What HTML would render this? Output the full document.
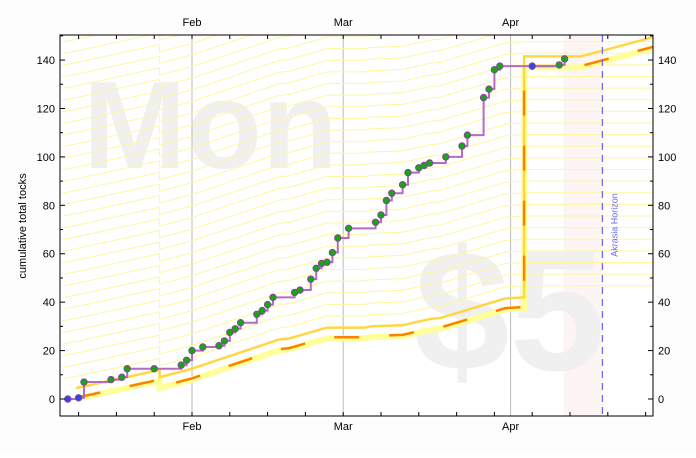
<!DOCTYPE html>
<html><head><meta charset="utf-8"><style>
body{margin:0;background:#fff;font-family:"Liberation Sans",sans-serif}
svg text{font-family:"Liberation Sans",sans-serif}
</style></head><body>
<svg id="c" width="696" height="453" viewBox="0 0 696 453" xmlns="http://www.w3.org/2000/svg">
<rect width="696" height="453" fill="#fdfdfd"/>
<rect x="60" y="35" width="593" height="381" fill="#fff"/>
<g id="plot"></g>
<rect x="60" y="35" width="593" height="381" fill="none" stroke="#000" stroke-width="1"/>
<text transform="translate(26,226) rotate(-90)" text-anchor="middle" font-size="11">cumulative total tocks</text>
</svg>
<script>
const days=[8,10,11,16,18,19,24,29,30,31,33,36,37,38,39,40,43,44,45,46,50,51,53,54,55,56,57,58,60,65,66,67,68,70,71,73,74,75,78,81,82,85,86,87,88,94,99,100];
const values=[0,0.5,7,8,9,12.5,12.5,14,16,20,21.5,22,24,27.5,29,31.5,35,36.5,39,42,44,45,49.5,54,56,56.5,60.5,66.5,70.5,73,76,82,85,88.5,93.5,95.5,96.5,97.5,100,104.5,109,124.5,128,136,137.5,137.5,138,140.5];
const blueIdx=[0,1,45];
const roadDays=[9.5,25,25,31,47,49,56,63,64,70,75,77,89,92.5,92.5,103,119];
const roadVals=[4.5,12,9,12.5,24.5,25,29.5,29.5,30,30.5,33,33.5,41.5,42,141.5,141.5,151];
const yTicks=[0,20,40,60,80,100,120,140];
const monthLabels=["Feb","Mar","Apr"];
const monthDays=[31,59,90];
const X=d=>192+(d-31)*5.4;
const Y=v=>399-v*2.421;
const NS="http://www.w3.org/2000/svg";
const plot=document.getElementById('plot');
const svg=document.getElementById('c');
function mk(t,a,p){const e=document.createElementNS(NS,t);for(const k in a)e.setAttribute(k,a[k]);(p||plot).appendChild(e);return e;}
const defs=mk('defs',{},svg);const cp=mk('clipPath',{id:'cl'},defs);mk('rect',{x:60,y:35,width:593,height:381},cp);
plot.setAttribute('clip-path','url(#cl)');
let pr=mk('rect',{x:X(99.8),y:35,width:X(107)-X(99.8),height:381,fill:'#fdf4f4'});


let w1=mk('text',{x:83,y:168,'font-size':124,'font-weight':'bold',fill:'#f0f0f0'});w1.textContent='Mon';


let w2=mk('text',{x:414,y:370,'font-size':172,'font-weight':'bold',fill:'#f0f0f0'});w2.textContent='$5';


monthDays.forEach((d,i)=>{let l=mk('line',{x1:X(d),x2:X(d),y1:35,y2:416,stroke:'#bbb','stroke-width':1});

});
for(let k=1;k<40;k++){
 let pts=roadDays.slice(0,14).map((d,i)=>X(d)+','+Y(roadVals[i]+k*4.8)).join(' ');
 let g=mk('polyline',{points:X(7)+','+Y(roadVals[0]+k*4.8-1)+' '+pts+' '+X(119)+','+Y(roadVals[13]+k*4.8),fill:'none',stroke:'#fff6a0','stroke-width':1});
 
 
}
let lb=mk('polyline',{points:roadDays.map((d,i)=>X(d)+','+Y(roadVals[i]-4.5)).join(' '),fill:'none',stroke:'#ffff99','stroke-width':6});


let rl=mk('polyline',{points:roadDays.map((d,i)=>X(d)+','+Y(roadVals[i])).join(' '),fill:'none',stroke:'#ffd740','stroke-width':2.5});


let ol=mk('polyline',{points:roadDays.map((d,i)=>X(d)+','+Y(roadVals[i]-4)).join(' '),fill:'none',stroke:'#ff8000','stroke-width':2.5,'stroke-dasharray':'25,30'});


let hz=mk('line',{x1:X(107),x2:X(107),y1:35,y2:416,stroke:'#6666ff','stroke-width':1.2,'stroke-dasharray':'7,5'});


let ht=mk('text',{transform:`translate(${X(107)+15},225) rotate(-90)`,'text-anchor':'middle','font-size':9,fill:'#6666ff'});ht.textContent='Akrasia Horizon';


let sp=[];days.forEach((d,i)=>{if(i>0)sp.push(X(d)+','+Y(values[i-1]));sp.push(X(d)+','+Y(values[i]));});
let st=mk('polyline',{points:sp.join(' '),fill:'none',stroke:'#b56bc4','stroke-width':2});


days.forEach((d,i)=>{let c=mk('circle',{cx:X(d),cy:Y(values[i]),r:3.2,fill:blueIdx.includes(i)?'#3344ee':'#11aa11',stroke:'#884499','stroke-width':1});

});
const ax=mk('g',{},svg);
yTicks.forEach(v=>{const y=Y(v);
 mk('line',{x1:60,x2:65,y1:y,y2:y,stroke:'#000'},ax);mk('line',{x1:648,x2:653,y1:y,y2:y,stroke:'#000'},ax);
 mk('line',{x1:60,x2:63,y1:Y(v+10),y2:Y(v+10),stroke:'#000'},ax);mk('line',{x1:650,x2:653,y1:Y(v+10),y2:Y(v+10),stroke:'#000'},ax);
 let t=mk('text',{x:55,y:y+4,'text-anchor':'end','font-size':11},ax);t.textContent=v;
 
 
 let t2=mk('text',{x:658,y:y+4,'font-size':11},ax);t2.textContent=v;
 
 
});
for(let d=10;d<120;d+=7){const x=X(d);if(x<60||x>653)continue;mk('line',{x1:x,x2:x,y1:416,y2:412,stroke:'#000'},ax);mk('line',{x1:x,x2:x,y1:35,y2:39,stroke:'#000'},ax);}
monthDays.forEach((d,i)=>{const x=X(d);
 let a=mk('text',{x:x,y:430,'text-anchor':'middle','font-size':11},ax);a.textContent=monthLabels[i];
 
 
 let b=mk('text',{x:x,y:26,'text-anchor':'middle','font-size':11},ax);b.textContent=monthLabels[i];
 
 
});
</script>
</body></html>
